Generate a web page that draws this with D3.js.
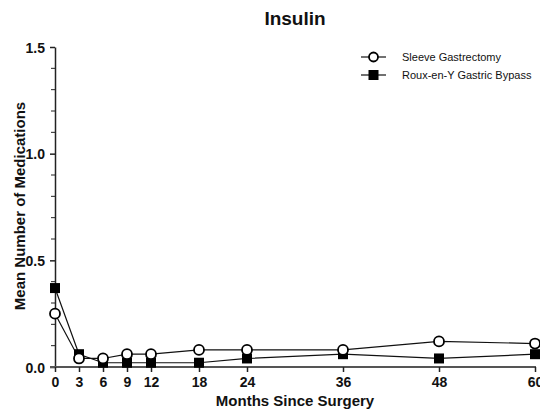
<!DOCTYPE html>
<html><head><meta charset="utf-8">
<script src="https://cdn.jsdelivr.net/npm/d3@7"></script>
<style>body{margin:0;background:#fff}svg{display:block}text{font-family:"Liberation Sans",Arial,sans-serif}</style>
</head><body><svg id="c" width="540" height="414"></svg>
<script>
const months = [0, 3, 6, 9, 12, 18, 24, 36, 48, 60];
const sleeve = [0.25, 0.04, 0.04, 0.06, 0.06, 0.08, 0.08, 0.08, 0.12, 0.11];
const rygb = [0.37, 0.06, 0.02, 0.02, 0.02, 0.02, 0.04, 0.06, 0.04, 0.06];
const yTicks = [0, 0.5, 1.0, 1.5];
const yMinor = [0.1,0.2,0.3,0.4,0.6,0.7,0.8,0.9,1.1,1.2,1.3,1.4];
const seriesNames = ["Sleeve Gastrectomy", "Roux-en-Y Gastric Bypass"];

const svg = d3.select("#c");
const x = d3.scaleLinear().domain([0, 60]).range([55, 535]);
const y = d3.scaleLinear().domain([0, 1.5]).range([367, 47]);

// y axis
const ya = svg.append("g").attr("transform","translate(55,0)")
  .call(d3.axisLeft(y).tickValues(yTicks).tickFormat(d3.format(".1f")).tickSize(5).tickPadding(5).tickSizeOuter(0));
ya.select(".domain").attr("stroke","#222").attr("stroke-width",1.5);
ya.selectAll(".tick line").attr("stroke","#222").attr("stroke-width",1.5);
ya.selectAll(".tick text").attr("font-size",14).attr("font-weight","bold").attr("fill","#111").attr("dy","0.36em");
svg.append("g").selectAll("line").data(yMinor).join("line")
  .attr("x1",51).attr("x2",55).attr("y1",d=>y(d)).attr("y2",d=>y(d)).attr("stroke","#222").attr("stroke-width",1);

// x axis
const xa = svg.append("g").attr("transform","translate(0,367)")
  .call(d3.axisBottom(x).tickValues(months).tickSize(5).tickSizeOuter(0));
xa.select(".domain").attr("stroke","#555").attr("stroke-width",2).attr("d","M50,0H536");
xa.selectAll(".tick line").attr("stroke","#222").attr("stroke-width",1.5);
xa.selectAll(".tick text").attr("font-size",14).attr("font-weight","bold").attr("fill","#111").attr("y",20).attr("dy",0);

// lines
const line = d3.line().x((d,i)=>x(months[i])).y(d=>y(d));
svg.append("path").datum(sleeve).attr("d",line).attr("fill","none").attr("stroke","#111").attr("stroke-width",1.2);
svg.append("path").datum(rygb).attr("d",line).attr("fill","none").attr("stroke","#111").attr("stroke-width",1.2);
svg.append("g").selectAll("rect").data(rygb).join("rect")
  .attr("x",(d,i)=>x(months[i])-5).attr("y",d=>y(d)-5).attr("width",10).attr("height",10).attr("fill","#000");
svg.append("g").selectAll("circle").data(sleeve).join("circle")
  .attr("cx",(d,i)=>x(months[i])).attr("cy",d=>y(d)).attr("r",5).attr("fill","#fff").attr("stroke","#000").attr("stroke-width",1.8);

// legend
const lg = svg.append("g");
[0,1].forEach(i=>{
  const yy = 57 + i*18;
  lg.append("line").attr("x1",361).attr("x2",386).attr("y1",yy).attr("y2",yy).attr("stroke","#111").attr("stroke-width",1.2);
  if(i===0) lg.append("circle").attr("cx",373.5).attr("cy",yy).attr("r",4.5).attr("fill","#fff").attr("stroke","#000").attr("stroke-width",1.8);
  else lg.append("rect").attr("x",368.5).attr("y",yy-5).attr("width",10).attr("height",10).attr("fill","#000");
  lg.append("text").attr("x",402).attr("y",yy).attr("dy","0.35em").attr("font-size",11).attr("fill","#111").text(seriesNames[i]);
});

// titles
svg.append("text").attr("x",295).attr("y",25).attr("text-anchor","middle").attr("font-size",19).attr("font-weight","bold").attr("fill","#111").text("Insulin");
svg.append("text").attr("transform","translate(25,206) rotate(-90)").attr("text-anchor","middle").attr("font-size",15).attr("font-weight","bold").attr("fill","#111").text("Mean Number of Medications");
svg.append("text").attr("x",295).attr("y",406).attr("text-anchor","middle").attr("font-size",15).attr("font-weight","bold").attr("fill","#111").text("Months Since Surgery");
</script></body></html>
